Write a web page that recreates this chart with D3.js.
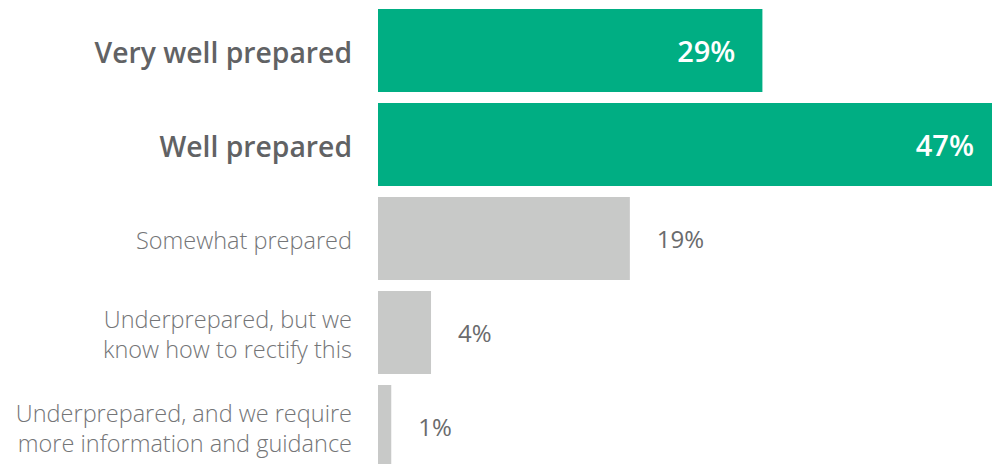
<!DOCTYPE html>
<html>
<head>
<meta charset="utf-8">
<script src="https://cdn.jsdelivr.net/npm/d3@7"></script>
<style>
  body { margin: 0; background: #fff; }
  svg { display: block; font-family: "Open Sans", sans-serif; }
</style>
</head>
<body>
<div id="chart"></div>
<script>
const categories = [
  ["Very well prepared"],
  ["Well prepared"],
  ["Somewhat prepared"],
  ["Underprepared, but we", "know how to rectify this"],
  ["Underprepared, and we require", "more information and guidance"]
];
const values = [29, 47, 19, 4, 1];
const highlighted = [true, true, false, false, false];

const width = 992;
const height = 464;
const barLeft = 378;

const svg = d3.select("#chart").append("svg")
    .attr("width", width)
    .attr("height", height);

// the 47% bar runs off the right edge in the original, so the range goes past the width
const x = d3.scaleLinear()
    .domain([0, 47])
    .range([barLeft, 1001]);

const y = d3.scaleBand()
    .domain(d3.range(values.length))
    .range([9, 9 + 94 * values.length - 11])
    .paddingInner(11 / 94)
    .paddingOuter(0);

const rows = svg.selectAll("g.row")
    .data(values)
    .enter().append("g")
    .attr("class", "row");

rows.append("rect")
    .attr("x", x(0))
    .attr("y", (d, i) => y(i))
    .attr("width", d => x(d) - x(0))
    .attr("height", y.bandwidth())
    .attr("fill", (d, i) => highlighted[i] ? "#00ae83" : "#c8c9c8");

// value labels: white inside the green bars, grey after the grey ones
rows.append("text")
    .attr("x", (d, i) => highlighted[i] ? x(d) - 27 : x(d) + 27)
    .attr("y", (d, i) => y(i) + y.bandwidth() / 2)
    .attr("dy", "0.4em")
    .attr("text-anchor", (d, i) => highlighted[i] ? "end" : "start")
    .attr("font-size", (d, i) => highlighted[i] ? 29 : 24)
    .attr("font-weight", (d, i) => highlighted[i] ? 600 : 400)
    .attr("fill", (d, i) => highlighted[i] ? "#ffffff" : "#6a6b6d")
    .text(d => d + "%");

// category labels
const labels = rows.append("text")
    .attr("text-anchor", "end")
    .attr("font-size", (d, i) => highlighted[i] ? 28.3 : 23.5)
    .attr("font-weight", (d, i) => highlighted[i] ? 600 : 300)
    .attr("fill", (d, i) => highlighted[i] ? "#616264" : "#747577");

labels.each(function(d, i) {
    const lines = categories[i];
    const lh = 30;
    const mid = y(i) + y.bandwidth() / 2 + 2;
    d3.select(this).selectAll("tspan")
        .data(lines)
        .enter().append("tspan")
        .attr("x", 352)
        .attr("y", (t, j) => mid + (j - (lines.length - 1) / 2) * lh)
        .attr("dy", "0.38em")
        .text(t => t);
});
</script>
</body>
</html>
